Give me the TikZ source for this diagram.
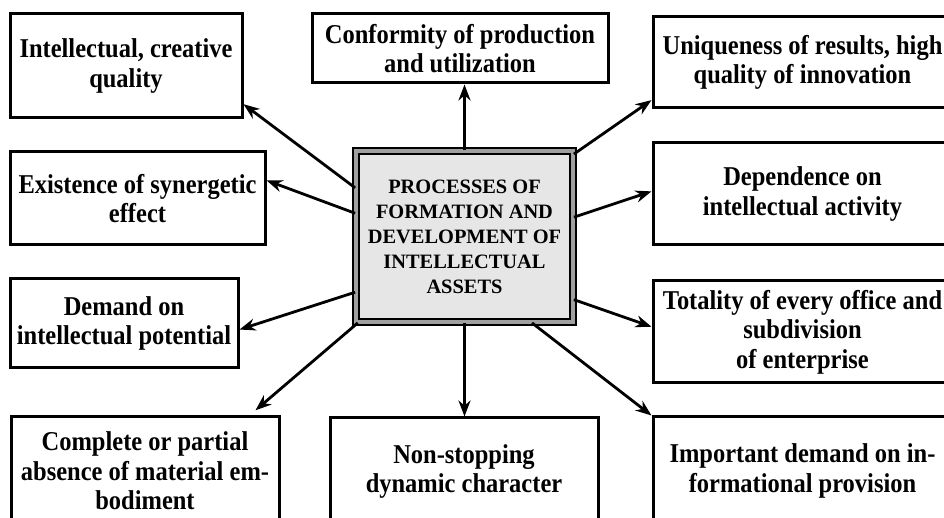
\documentclass[tikz,border=0pt]{standalone}
\usepackage{fontspec}
\setmainfont{Liberation Serif}
\newfontfamily\boxfont{Liberation Serif}[FakeStretch=0.9]
\usetikzlibrary{arrows.meta}
\definecolor{procfill}{HTML}{E6E6E6}
\definecolor{procband}{HTML}{A0A0A0}

\begin{document}
\begin{tikzpicture}[x=0.5pt,y=-0.5pt,
    box/.style={draw,line width=1.5pt,align=center,inner sep=0pt,
      font=\boxfont\bfseries\fontsize{13.6}{14.8}\selectfont},
    link/.style={-{Stealth[length=8pt,width=6pt]},line width=1.4pt}]
  \path[use as bounding box,clip] (0,0) rectangle (944,518);
  % centre
  \node[draw,line width=0.9pt,double=procband,double distance=2.2pt,fill=procfill,
    minimum width=108.5pt,minimum height=85.5pt,align=center,inner sep=0pt,
    font=\bfseries\fontsize{10.2}{12.5}\selectfont] (proc) at (464.5,236.5)
    {PROCESSES OF\\FORMATION AND\\DEVELOPMENT OF\\INTELLECTUAL\\ASSETS};
  % left column
  \node[box,minimum width=116pt,minimum height=52pt] (quality) at (126,66)
    {Intellectual, creative\\quality};
  \node[box,minimum width=127.5pt,minimum height=46.5pt] (synergy) at (137.5,198.5)
    {Existence of synergetic\\effect};
  \node[box,minimum width=114pt,minimum height=44.5pt] (potential) at (124,323.5)
    {Demand on\\intellectual potential};
  \node[box,minimum width=134pt,minimum height=54pt] (material) at (145,471)
    {Complete or partial\\absence of material em-\\bodiment};
  % middle column
  \node[box,minimum width=148pt,minimum height=34.5pt] (conformity) at (460,48.5)
    {Conformity of production\\and utilization};
  \node[box,minimum width=134pt,minimum height=53.5pt] (dynamic) at (464,471.5)
    {Non-stopping\\dynamic character};
  % right column
  \node[box,minimum width=149.5pt,minimum height=45.5pt] (unique) at (802.5,62.5)
    {Uniqueness of results, high\\quality of innovation};
  \node[box,minimum width=149.5pt,minimum height=51pt] (activity) at (802.5,194)
    {Dependence on\\intellectual activity};
  \node[box,minimum width=149.5pt,minimum height=51pt] (office) at (802.5,332)
    {Totality of every office and\\subdivision\\of enterprise};
  \node[box,minimum width=149.5pt,minimum height=54pt] (info) at (802.5,471)
    {Important demand on in-\\formational provision};
  % arrows
  \draw[link] (proc.156) -- (quality.-18);
  \draw[link] (proc.168) -- (synergy.8);
  \draw[link] (proc.north) -- (proc.north |- conformity.south);
  \draw[link] (proc.37) -- (unique.194);
  \draw[link] (proc.10) -- (activity.179);
  \draw[link] (proc.207) -- (potential.-3);
  \draw[link,shorten >=4pt] (proc.219) -- (material.28);
  \draw[link] (proc.south) -- (proc.south |- dynamic.north);
  \draw[link] (proc.-30) -- (office.178);
  \draw[link] (proc.-52) -- (info.north west);
\end{tikzpicture}
\end{document}
